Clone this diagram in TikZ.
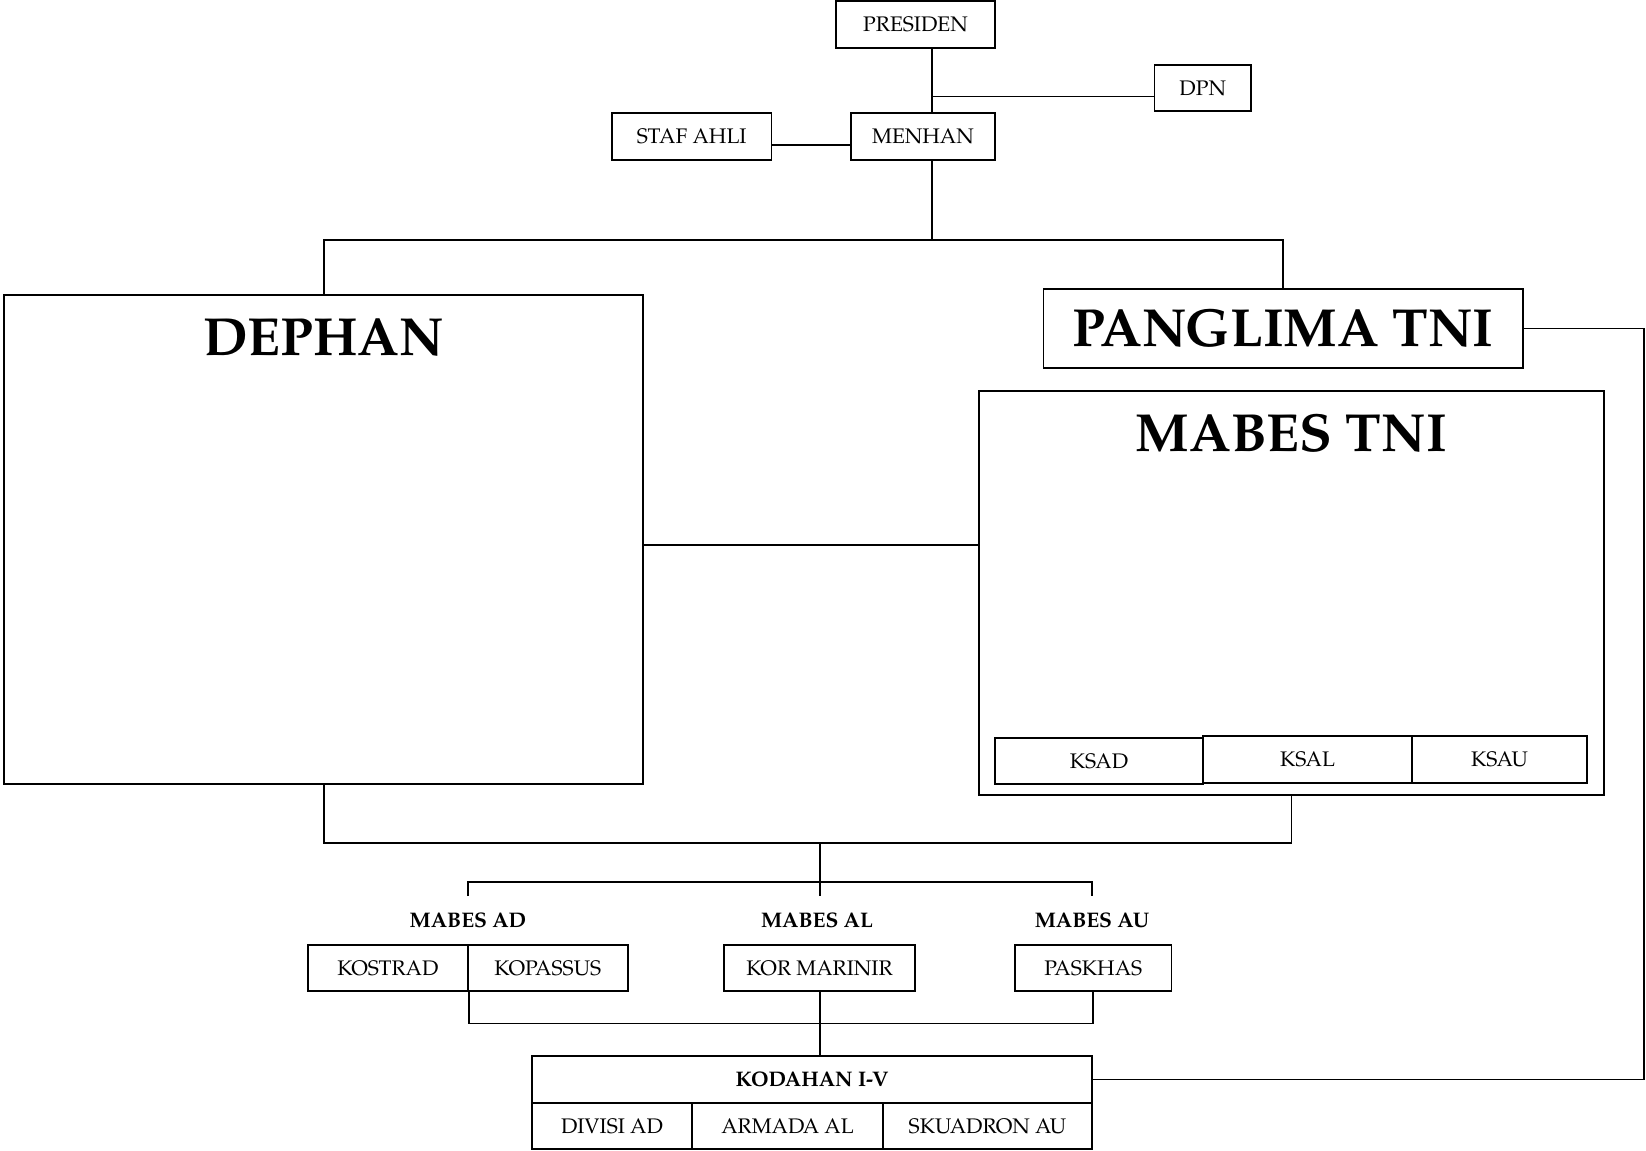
\documentclass[tikz,border=0pt]{standalone}
\usepackage{fontspec}
\setmainfont{TeX Gyre Pagella}

\begin{document}
\begin{tikzpicture}[x=0.02cm,y=-0.02cm,line width=1.1pt,
	box/.style={draw,rectangle,inner sep=0pt,minimum height=0.93cm,font=\fontsize{12}{14}\selectfont},
	big/.style={inner sep=0pt,font=\fontsize{30.5}{36}\selectfont\bfseries},
	tag/.style={inner sep=0pt,minimum height=0.94cm,font=\fontsize{12}{14}\selectfont\bfseries}]
	\useasboundingbox (0,0) rectangle (1646,1151);
			\node[box,minimum width=3.18cm] (pres) at (915.5,24.5) {PRESIDEN};
			\node[box,minimum width=1.93cm] (dpn) at (1202.75,88) {DPN};
			\node[box,minimum width=2.88cm] (men) at (923,136.5) {MENHAN};
			\node[box,minimum width=3.19cm] (staf) at (691.75,136.5) {STAF AHLI};
			\coordinate (spine) at (932,240);
			\draw (spine |- pres.south) -- (spine |- men.north)
			(men.south -| spine) -- (spine);
			\draw ([yshift=-0.17cm]dpn.west -| spine) -- ([yshift=-0.17cm]dpn.west);
			\draw ([yshift=-0.17cm]staf.east) -- ([yshift=-0.17cm]staf.east -| men.west);

			\node[box,minimum width=12.79cm,minimum height=9.78cm] (dep) at (323.75,539.5) {};
			\node[big] at (323.75,338) {DEPHAN};
			\node[box,big,draw,minimum width=9.59cm,minimum height=1.59cm] (pang) at (1283.2,328.5) {PANGLIMA TNI};
			\node[box,minimum width=12.5cm,minimum height=8.1cm] (mab) at (1291.5,593) {};
			\node[big] at (1291.5,433) {MABES TNI};
			\node[box,minimum width=4.16cm,minimum height=0.92cm] (ksad) at (1099,761) {KSAD};
			\node[box,minimum width=4.18cm,minimum height=0.94cm] (ksal) at (1307.5,759.5) {KSAL};
			\node[box,minimum width=3.5cm,minimum height=0.94cm] (ksau) at (1499.5,759.5) {KSAU};
			\draw (dep.north) |- (spine) -| (pang.north);
			\draw ([yshift=-0.11cm]dep.east) -- ([yshift=-0.11cm]dep.east -| mab.west);

			\coordinate (hub) at (820,843);
			\coordinate (fork) at (820,882);
			\coordinate (rim) at (1644,0);
			\draw (dep.south) |- (hub) -| (mab.south);
			\draw (hub) -- (fork);

			\node[tag] (ad) at (468,920.6) {MABES AD};
			\node[tag] (al) at (817,920.6) {MABES AL};
			\node[tag] (au) at (1092,920.6) {MABES AU};
			\draw (ad.north) |- (fork) -| (au.north)
			(fork) -- (fork |- al.north);

			\node[box,minimum width=3.21cm,minimum height=0.92cm] (kos) at (387.8,968) {KOSTRAD};
			\node[box,minimum width=3.19cm,minimum height=0.92cm] (kop) at (547.85,968) {KOPASSUS};
			\node[box,minimum width=3.82cm,minimum height=0.92cm] (kor) at (819.5,968) {KOR MARINIR};
			\node[box,minimum width=3.13cm,minimum height=0.92cm] (pas) at (1093.25,968) {PASKHAS};

			\node[box,tag,draw,minimum width=11.2cm] (kod) at (812,1079.5) {KODAHAN I-V};
			\node[box,minimum width=3.2cm] (div) at (612,1126) {DIVISI AD};
			\node[box,minimum width=3.82cm] (arm) at (787.5,1126) {ARMADA AL};
			\node[box,minimum width=4.18cm] (sku) at (987.5,1126) {SKUADRON AU};

			\coordinate (join) at (820,1023.5);
			\draw (kos.south east) |- (join) -| (pas.south)
			(join |- kor.south) -- (join) -- (join |- kod.north);
			\draw (pang.east) -- (pang.east -| rim) -- (rim |- kod.east) -- (kod.east);
		\end{tikzpicture}
\end{document}
